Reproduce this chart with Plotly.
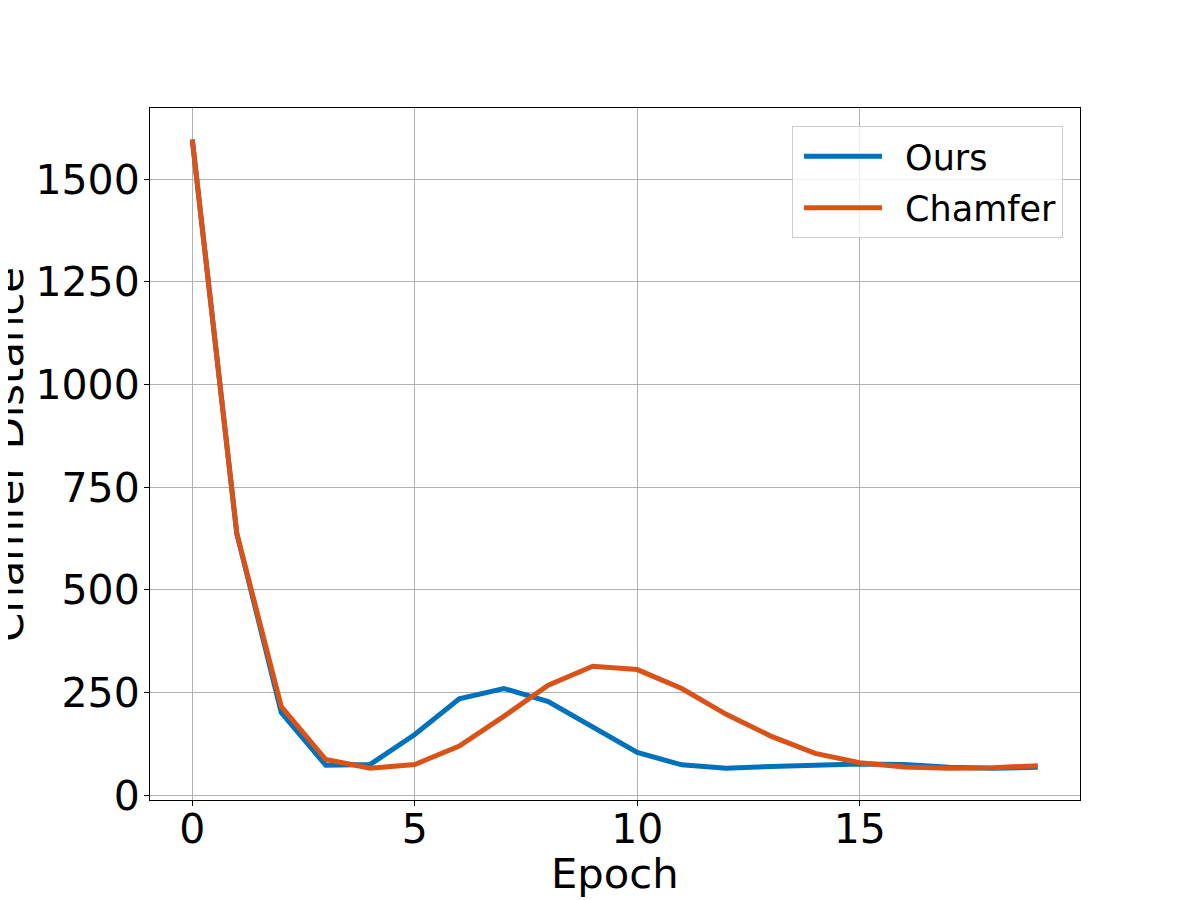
import plotly.graph_objects as go

epochs = list(range(20))
ours = [1597, 638, 201, 73, 75, 148, 235, 260, 228, 165, 104, 74, 66, 70, 74, 76, 75, 68, 66, 68]
chamfer = [1597, 638, 216, 87, 66, 75, 120, 192, 268, 314, 306, 260, 197, 144, 102, 79, 69, 66, 67, 72]

x_ticks = [0, 5, 10, 15]
y_ticks = [0, 250, 500, 750, 1000, 1250, 1500]

FONT = "DejaVu Sans"
GAP = "\u00a0\u2009"

fig = go.Figure()
fig.add_trace(go.Scatter(x=epochs, y=ours, mode="lines", name=GAP + "Ours",
                         legendgroup="a",
                         line=dict(color="#0072BD", width=5)))
fig.add_trace(go.Scatter(x=epochs, y=chamfer, mode="lines", name=GAP + "Chamfer",
                         legendgroup="b",
                         line=dict(color="#D95319", width=5)))

axis_common = dict(
    showline=True, linecolor="black", linewidth=1, mirror=True,
    ticks="outside", ticklen=5, tickcolor="black", tickwidth=1,
    showgrid=True, gridcolor="#b0b0b0", gridwidth=1,
    zeroline=False,
    tickfont=dict(family=FONT, size=41, color="black"),
)

fig.update_layout(
    width=1200, height=900,
    margin=dict(l=142, r=128, t=100, b=108),
    paper_bgcolor="white", plot_bgcolor="white",
    font=dict(family=FONT, color="black"),
    xaxis=dict(range=[-0.95, 19.95], tickvals=x_ticks, automargin=False,
               ticklabelstandoff=-12, **axis_common),
    yaxis=dict(range=[-11.6, 1673.6], tickvals=y_ticks, automargin=False,
               ticklabelstandoff=-4, **axis_common),
    legend=dict(x=0.9817, y=0.974, xanchor="right", yanchor="top",
                bgcolor="rgba(255,255,255,0.8)", bordercolor="#cccccc", borderwidth=1,
                font=dict(family=FONT, size=35, color="black"),
                itemwidth=78, indentation=6,
                traceorder="grouped", tracegroupgap=3),
    showlegend=True,
    annotations=[
        dict(text="Epoch", xref="paper", yref="paper", x=0.5, y=-0.106,
             xanchor="center", yanchor="middle", showarrow=False,
             font=dict(family=FONT, size=41.7, color="black")),
        dict(text="Chamfer Distance", xref="paper", yref="paper", x=-0.153, y=0.5,
             xanchor="center", yanchor="middle", showarrow=False, textangle=-90,
             font=dict(family=FONT, size=41.7, color="black")),
    ],
)

fig.write_html("out.html")
